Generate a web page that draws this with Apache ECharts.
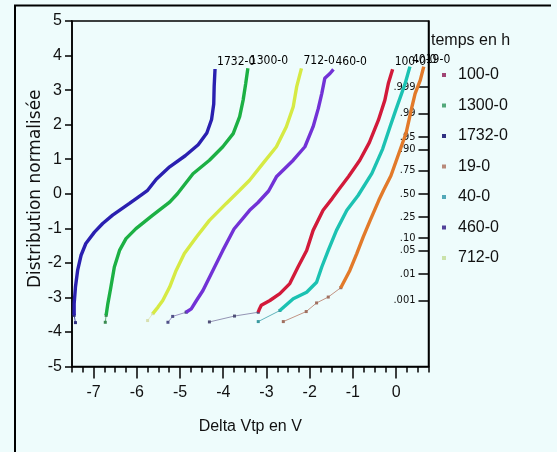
<!DOCTYPE html>
<html><head><meta charset="utf-8">
<script src="https://cdn.jsdelivr.net/npm/echarts@6/dist/echarts.min.js"></script>
<style>html,body{margin:0;padding:0;background:#eefcfc;}#c{width:557px;height:452px;}</style>
</head><body><div id="c"></div>
<script>
// ---- data (Delta Vtp [V], normal quantile) ----
const seriesNames = ['100-0','1300-0','1732-0','19-0','40-0','460-0','712-0'];

const main100 = [[-3.19,-3.43],[-3.17,-3.36],[-3.12,-3.23],[-2.92,-3.09],[-2.69,-2.89],[-2.46,-2.60],[-2.27,-2.12],[-2.07,-1.64],[-1.92,-1.06],[-1.69,-0.48],[-1.48,-0.14],[-1.34,0.10],[-1.10,0.50],[-0.84,0.97],[-0.62,1.48],[-0.41,2.13],[-0.26,2.71],[-0.18,3.19],[-0.08,3.60]];
const tail100 = [[-4.32,-3.71],[-3.74,-3.54],[-3.19,-3.43]];

const main1300 = [[-6.71,-3.52],[-6.67,-3.18],[-6.60,-2.70],[-6.52,-2.12],[-6.40,-1.64],[-6.25,-1.30],[-6.02,-1.01],[-5.63,-0.62],[-5.24,-0.24],[-5.06,0.00],[-4.70,0.58],[-4.32,0.97],[-4.01,1.36],[-3.77,1.74],[-3.62,2.23],[-3.54,2.71],[-3.48,3.19],[-3.43,3.63]];
const tail1300 = [[-6.73,-3.72],[-6.71,-3.52]];

const main1732 = [[-7.45,-3.52],[-7.45,-3.18],[-7.42,-2.70],[-7.37,-2.22],[-7.29,-1.78],[-7.18,-1.44],[-6.98,-1.11],[-6.79,-0.86],[-6.56,-0.62],[-6.17,-0.28],[-5.95,-0.08],[-5.75,0.10],[-5.55,0.42],[-5.24,0.78],[-4.88,1.10],[-4.58,1.42],[-4.38,1.76],[-4.27,2.15],[-4.22,2.60],[-4.21,3.10],[-4.19,3.61]];
const tail1732 = [[-7.42,-3.73],[-7.45,-3.52]];

const main19 = [[-1.28,-2.72],[-1.07,-2.22],[-0.91,-1.73],[-0.76,-1.25],[-0.60,-0.77],[-0.40,-0.19],[-0.29,0.10],[-0.12,0.52],[0.09,1.26],[0.23,1.75],[0.36,2.48],[0.44,2.90],[0.56,3.29],[0.64,3.68]];
const tail19 = [[-2.61,-3.70],[-2.08,-3.41],[-1.84,-3.16],[-1.57,-2.99],[-1.28,-2.72]];

const main40 = [[-2.69,-3.38],[-2.38,-3.04],[-2.07,-2.85],[-1.84,-2.56],[-1.72,-2.12],[-1.57,-1.64],[-1.38,-1.06],[-1.14,-0.48],[-0.88,-0.05],[-0.56,0.59],[-0.31,1.30],[-0.14,1.94],[0.00,2.45],[0.21,3.19],[0.32,3.68]];
const tail40 = [[-3.19,-3.70],[-2.69,-3.38]];

const main460 = [[-4.86,-3.43],[-4.74,-3.33],[-4.62,-3.09],[-4.47,-2.80],[-4.24,-2.22],[-4.01,-1.64],[-3.75,-1.02],[-3.39,-0.48],[-3.20,-0.26],[-2.95,0.08],[-2.77,0.49],[-2.38,0.97],[-2.11,1.36],[-1.92,1.94],[-1.80,2.47],[-1.72,2.90],[-1.65,3.34],[-1.53,3.48],[-1.45,3.60]];
const tail460 = [[-5.28,-3.72],[-5.17,-3.55],[-4.86,-3.43]];

const main712 = [[-5.63,-3.47],[-5.51,-3.28],[-5.40,-3.09],[-5.24,-2.70],[-5.09,-2.22],[-4.90,-1.73],[-4.62,-1.25],[-4.32,-0.77],[-3.93,-0.28],[-3.62,0.10],[-3.39,0.39],[-3.08,0.88],[-2.77,1.36],[-2.54,1.94],[-2.38,2.52],[-2.30,3.10],[-2.19,3.63]];
const tail712 = [[-5.75,-3.67],[-5.63,-3.47]];

// tick values / labels
const xMajor = [-7,-6,-5,-4,-3,-2,-1,0];
const probLabels = ['.999','.99','.95','.90','.75','.50','.25','.10','.05','.01','.001'];
const probZ = [3.090,2.326,1.645,1.282,0.674,0,-0.674,-1.282,-1.645,-2.326,-3.090];

// ---- styles ----
const mains = [main100, main1300, main1732, main19, main40, main460, main712];
const tails = [tail100, tail1300, tail1732, tail19, tail40, tail460, tail712];
const lineColors = ['#d21a3a','#1cb044','#2a20b0','#e27a2a','#1cc2b2','#7232d6','#d6ea44'];
const tailLine = ['#9494b4','#66b478','#4a4aa8','#c29484','#62b4bc','#9c92c4','#e2eac0'];
const tailDot = ['#505078','#3a8a50','#303080','#a07060','#3a9aa0','#505088','#d8e0b0'];
const legendColors = ['#a04474','#52a87a','#303082','#b88a7a','#52a8b8','#52429a','#cae2aa'];
const condensed = '"DejaVu Sans Condensed", "Liberation Sans Narrow", "Liberation Sans", sans-serif';

const series = [];
seriesNames.forEach((n, i) => {
  series.push({
    name: n, type: 'line', data: tails[i], xAxisIndex: 0, yAxisIndex: 0,
    symbol: 'rect', symbolSize: 3, showSymbol: true,
    lineStyle: { width: 1, color: tailLine[i] },
    itemStyle: { color: tailDot[i] },
    emphasis: { disabled: true }, silent: true, z: 2
  });
  series.push({
    name: n, type: 'line', data: mains[i], xAxisIndex: 0, yAxisIndex: 0,
    symbol: 'none', showSymbol: false,
    lineStyle: { width: 3.4, color: lineColors[i] },
    itemStyle: { color: lineColors[i] },
    emphasis: { disabled: true }, silent: true, z: 3,
    endLabel: { show: true, formatter: '{a}', distance: 2, offset: [0, -7],
      fontSize: 12, fontFamily: condensed, color: '#000' }
  });
});

const chart = echarts.init(document.getElementById('c'), null, { renderer: 'canvas' });
chart.setOption({
  animation: false,
  backgroundColor: '#eefcfc',
  title: { text: 'temps en h', left: 431, top: 33, padding: 0,
    textStyle: { fontSize: 16, fontWeight: 'normal', color: '#111', fontFamily: 'Liberation Sans' } },
  legend: {
    orient: 'vertical', left: 442, top: 67, padding: 0,
    itemWidth: 4, itemHeight: 4, itemGap: 14.5, icon: 'rect',
    itemStyle: { borderWidth: 0 },
    textStyle: { fontSize: 16, color: '#111', fontFamily: 'Liberation Sans', padding: [0, 0, 0, 7] },
    data: seriesNames.map((n, i) => ({ name: n, itemStyle: { color: legendColors[i] } }))
  },
  grid: { left: 72, right: 128.5, top: 21, bottom: 85.5, show: true,
    borderColor: '#000', borderWidth: 1.5, backgroundColor: 'transparent' },
  xAxis: [
    { type: 'value', min: -7.5, max: 0.75, position: 'bottom',
      axisLine: { onZero: false, lineStyle: { color: '#000', width: 1.5 } },
      axisTick: { customValues: xMajor, length: 12, lineStyle: { color: '#000', width: 1.5 } },
      axisLabel: { customValues: xMajor, margin: 18, fontSize: 16, color: '#111', fontFamily: 'Liberation Sans' },
      splitLine: { show: false },
      name: 'Delta Vtp en V', nameLocation: 'middle', nameGap: 52, nameMoveOverlap: false,
      nameTextStyle: { fontSize: 16, color: '#111', fontFamily: 'Liberation Sans' } },
    { type: 'value', min: -7.5, max: 0.75, interval: 0.25, position: 'bottom',
      axisLine: { show: false, onZero: false },
      axisTick: { length: 6, lineStyle: { color: '#000', width: 1.5 } },
      axisLabel: { show: false }, splitLine: { show: false } }
  ],
  yAxis: [
    { type: 'value', min: -5, max: 5, interval: 1, position: 'left',
      axisLine: { onZero: false, lineStyle: { color: '#000', width: 1.5 } },
      axisTick: { length: 7, lineStyle: { color: '#000', width: 1.5 } },
      axisLabel: { margin: 10, fontSize: 16, color: '#111', fontFamily: 'Liberation Sans' },
      splitLine: { show: false },
      name: 'Distribution normalisée', nameLocation: 'middle', nameGap: 28, nameMoveOverlap: false,
      nameTextStyle: { fontSize: 17, color: '#111', fontFamily: 'DejaVu Sans', padding: [0, 0, 0, 10] } },
    { type: 'value', min: -5, max: 5, position: 'right',
      axisLine: { show: true, onZero: false, lineStyle: { color: '#000', width: 1.5 } },
      axisTick: { inside: true, customValues: probZ, length: 10, lineStyle: { color: '#000', width: 1.5 } },
      axisLabel: { inside: true, customValues: probZ, margin: 13, fontSize: 11,
        fontFamily: condensed, color: '#111',
        formatter: function (v) {
          let best = 0;
          probZ.forEach((z, k) => { if (Math.abs(z - v) < Math.abs(probZ[best] - v)) best = k; });
          return probLabels[best];
        } },
      splitLine: { show: false } }
  ],
  graphic: [
    { type: 'line', shape: { x1: 14, y1: 5.5, x2: 551, y2: 5.5 }, style: { stroke: '#000', lineWidth: 2 }, silent: true },
    { type: 'line', shape: { x1: 15, y1: 5, x2: 15, y2: 452 }, style: { stroke: '#000', lineWidth: 2 }, silent: true }
  ],
  series: series
});
</script>
</body></html>
